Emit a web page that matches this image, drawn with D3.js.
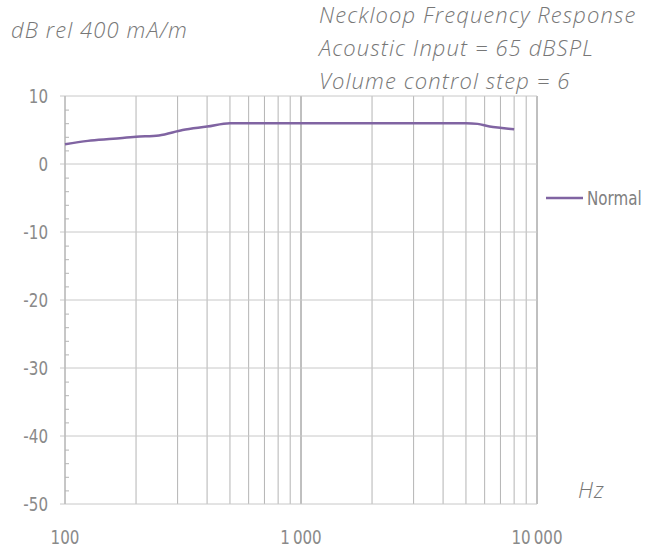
<!DOCTYPE html>
<html>
<head>
<meta charset="utf-8">
<script src="https://cdn.jsdelivr.net/npm/d3@7"></script>
<style>
  body { margin: 0; background: #fff; }
  .tick-label { font-family: "Liberation Sans Narrow", "DejaVu Sans Condensed", sans-serif; font-size: 20px; fill: #8a8a8a; }
  .note { font-family: "Open Sans", sans-serif; font-style: italic; font-weight: 300; font-size: 22px; letter-spacing: 1.1px; fill: #777; }
  .legend-text { font-family: "Liberation Sans Narrow", "DejaVu Sans Condensed", sans-serif; font-size: 20px; fill: #808080; }
</style>
</head>
<body>
<div id="chart"></div>
<script>
// data
var freqs = [100, 125, 160, 200, 250, 315, 400, 500, 630, 800, 1000, 1250, 1600, 2000,
             2500, 3150, 4000, 5000, 5600, 6300, 7100, 8000];
var normal = [2.9, 3.4, 3.7, 4.0, 4.2, 5.0, 5.5, 6.0, 6.0, 6.0, 6.0, 6.0, 6.0, 6.0,
              6.0, 6.0, 6.0, 6.0, 5.9, 5.5, 5.3, 5.1];
var yTicks = [-50, -40, -30, -20, -10, 0, 10];
var xLabels = [100, 1000, 10000];
var seriesName = "Normal";
var notes = ["Neckloop Frequency Response", "Acoustic Input = 65 dBSPL", "Volume control step = 6"];
var yUnit = "dB rel 400 mA/m";
var xUnit = "Hz";

var W = 654, H = 548;
var margin = { left: 65, right: 117, top: 96, bottom: 44 };
var squeeze = 0.84; // labels are a condensed face

var svg = d3.select("#chart").append("svg")
  .attr("width", W)
  .attr("height", H);

var x = d3.scaleLog()
  .domain([100, 10000])
  .range([margin.left, W - margin.right]);

var y = d3.scaleLinear()
  .domain([-50, 10])
  .range([H - margin.bottom, margin.top]);

// vertical grid lines, every 100/1000 step
var gridFreqs = [];
[100, 1000].forEach(function(dec){
  for (var k = 1; k <= 10; k++) gridFreqs.push(dec * k);
});
gridFreqs = Array.from(new Set(gridFreqs));

svg.append("g")
  .selectAll("line")
  .data(gridFreqs)
  .enter()
  .append("line")
  .attr("x1", function(d){ return x(d); })
  .attr("x2", function(d){ return x(d); })
  .attr("y1", y(10))
  .attr("y2", y(-50))
  .style("stroke", function(d){
    return (d === 1000 || d === 10000) ? "#808080" : "#b4b4b4";
  })
  .style("stroke-width", 1);

// horizontal grid lines + outer major ticks
svg.append("g")
  .selectAll("line")
  .data(yTicks)
  .enter()
  .append("line")
  .attr("x1", margin.left - 5)
  .attr("x2", x(10000))
  .attr("y1", function(d){ return y(d); })
  .attr("y2", function(d){ return y(d); })
  .style("stroke", "#c8c8c8")
  .style("stroke-width", 1);

// left axis line
svg.append("line")
  .attr("x1", margin.left).attr("x2", margin.left)
  .attr("y1", y(10)).attr("y2", y(-50))
  .style("stroke", "#b4b4b4");

// minor ticks (inside)
var minor = d3.range(-48, 10, 2).filter(function(d){ return d % 10 !== 0; });
var yMinor = d3.axisLeft(y).tickValues(minor).tickSize(-4).tickFormat("");
svg.append("g")
  .attr("transform", "translate(" + margin.left + ",0)")
  .call(yMinor)
  .call(function(g){
    g.select(".domain").remove();
    g.selectAll("line").style("stroke", "#b4b4b4");
  });

// y labels
svg.append("g")
  .selectAll("text")
  .data(yTicks)
  .enter()
  .append("text")
  .attr("class", "tick-label")
  .attr("transform", function(d){
    return "translate(48," + (y(d) + 7) + ") scale(" + squeeze + ",1)";
  })
  .style("text-anchor", "end")
  .text(function(d){ return d; });

// x labels
var fmt = function(d){ return d3.format(",")(d).replace(/,/g, "\u2009"); };
svg.append("g")
  .selectAll("text")
  .data(xLabels)
  .enter()
  .append("text")
  .attr("class", "tick-label")
  .attr("transform", function(d){
    return "translate(" + x(d) + ",544) scale(" + squeeze + ",1)";
  })
  .style("text-anchor", "middle")
  .text(fmt);

// series
var line = d3.line()
  .x(function(d){ return x(d[0]); })
  .y(function(d){ return y(d[1]); })
  .curve(d3.curveMonotoneX);

svg.append("path")
  .datum(d3.zip(freqs, normal))
  .attr("d", line)
  .style("fill", "none")
  .style("stroke", "#8064a2")
  .style("stroke-width", 2.5);

// legend
var legend = svg.append("g")
  .attr("transform", "translate(546,198)");
legend.append("line")
  .attr("x1", 0).attr("x2", 37)
  .style("stroke", "#8064a2")
  .style("stroke-width", 2.5);
legend.append("text")
  .attr("class", "legend-text")
  .attr("transform", "translate(41,7) scale(" + squeeze + ",1)")
  .text(seriesName);

// texts
svg.append("text")
  .attr("class", "note")
  .attr("x", 11)
  .attr("y", 38)
  .text(yUnit);

svg.selectAll(".title-line")
  .data(notes)
  .enter()
  .append("text")
  .attr("class", "note title-line")
  .attr("x", 319)
  .attr("y", function(d, i){ return 23 + i * 33; })
  .text(function(d){ return d; });

svg.append("text")
  .attr("class", "note")
  .attr("x", 578)
  .attr("y", 498)
  .text(xUnit);
</script>
</body>
</html>
